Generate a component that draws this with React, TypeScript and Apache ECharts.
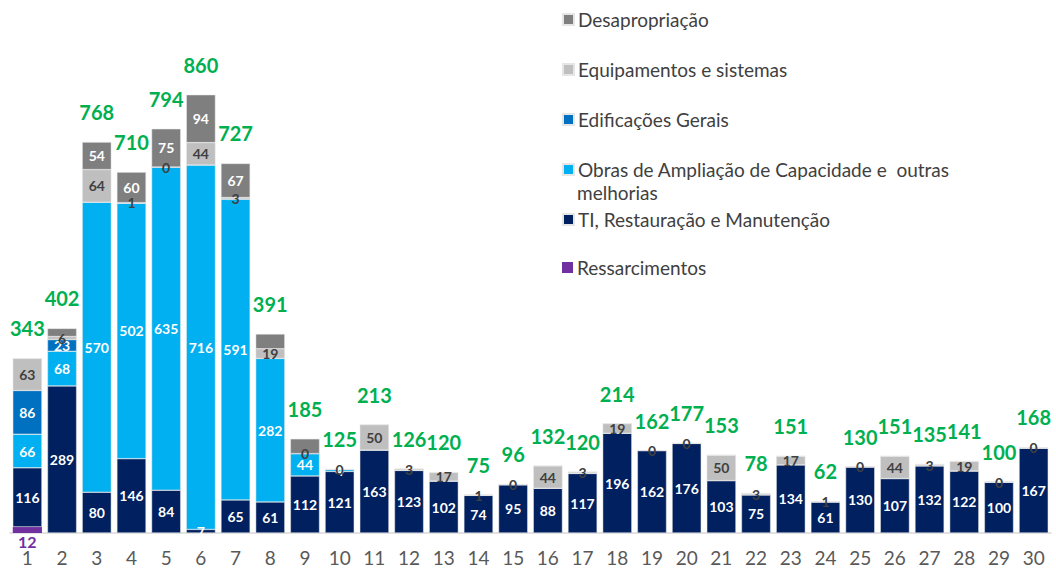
import React, { useEffect, useRef } from "react";
import * as echarts from "echarts";

const categories = Array.from({ length: 30 }, (_, i) => String(i + 1));

const ressarcimentos = [12, 0, 0, 0, 0, 0, 0, 0, 0, 0, 0, 0, 0, 0, 0, 0, 0, 0, 0, 0, 0, 0, 0, 0, 0, 0, 0, 0, 0, 0];
const tiRestauracao = [116, 289, 80, 146, 84, 7, 65, 61, 112, 121, 163, 123, 102, 74, 95, 88, 117, 196, 162, 176, 103, 75, 134, 61, 130, 107, 132, 122, 100, 167];
const obrasAmpliacao = [66, 68, 570, 502, 635, 716, 591, 282, 44, 4, 0, 0, 0, 0, 0, 0, 0, 0, 0, 0, 0, 0, 0, 0, 0, 0, 0, 0, 0, 0];
const edificacoes = [86, 23, 0, 0, 0, 0, 0, 0, 0, 0, 0, 0, 0, 0, 0, 0, 0, 0, 0, 0, 0, 0, 0, 0, 0, 0, 0, 0, 0, 0];
const equipamentos = [63, 6, 64, 1, 0, 44, 3, 19, 0, 0, 50, 3, 17, 1, 0, 44, 3, 19, 0, 0, 50, 3, 17, 1, 0, 44, 3, 19, 0, 0];
const desapropriacao = [0, 16, 54, 60, 75, 94, 67, 29, 29, 0, 0, 0, 0, 0, 0, 0, 0, 0, 0, 0, 0, 0, 0, 0, 0, 0, 0, 0, 0, 0];
const totals = [343, 402, 768, 710, 794, 860, 727, 391, 185, 125, 213, 126, 120, 75, 96, 132, 120, 214, 162, 177, 153, 78, 151, 62, 130, 151, 135, 141, 100, 168];

const N_DESAP = "Desapropriação";
const N_EQUIP = "Equipamentos e sistemas";
const N_EDIF = "Edificações Gerais";
const N_OBRAS = "Obras de Ampliação de Capacidade e  outras melhorias";
const N_TI = "TI, Restauração e Manutenção";
const N_RESS = "Ressarcimentos";

const FONT = "Lato";

export default function App() {
  const ref = useRef<HTMLDivElement>(null);
  useEffect(() => {
    document.body.style.margin = "0";
    const chart = echarts.init(ref.current!, null, { renderer: "svg" });
    const whiteLabel = (minShow: number) => ({
      show: true,
      position: "inside",
      color: "#ffffff",
      fontFamily: FONT,
      fontWeight: "bold",
      fontSize: 14,
      formatter: (p: any) => (p.value >= minShow ? String(p.value) : ""),
    });
    const common = {
      type: "bar",
      stack: "total",
      barCategoryGap: "16%",
      barGap: "-100%",
    };
    const legendItem = (name: string, top: number, text?: string) => ({
      orient: "vertical",
      left: 557,
      top,
      data: [name],
      itemWidth: 11,
      itemHeight: 11,
      icon: "rect",
      formatter: () => text ?? name,
      textStyle: { fontFamily: FONT, fontSize: 19, color: "#404040", padding: [0, 0, 0, -1] },
      selectedMode: false,
    });
    chart.setOption({
      animation: false,
      textStyle: { fontFamily: FONT },
      grid: { left: 10, right: 5, top: 24, bottom: 38 },
      xAxis: {
        type: "category",
        data: categories,
        axisLine: { lineStyle: { color: "#d9d9d9", width: 1.5 } },
        axisTick: { show: false },
        axisLabel: { color: "#595959", fontSize: 19, fontFamily: FONT, margin: 15 },
      },
      yAxis: { type: "value", min: 0, max: 1000, show: false, splitLine: { show: false } },
      legend: [
        legendItem(N_DESAP, 5),
        legendItem(N_EQUIP, 55),
        legendItem(N_EDIF, 105),
        legendItem(N_OBRAS, 155, "Obras de Ampliação de Capacidade e  outras"),
        legendItem(N_TI, 205),
        legendItem(N_RESS, 253),
      ],
      graphic: [
        {
          type: "text",
          left: 577,
          top: 183,
          style: { text: "melhorias", font: `19px ${FONT}`, fill: "#404040" },
        },
      ],
      series: [
        {
          ...common,
          name: N_RESS,
          data: ressarcimentos,
          itemStyle: { color: "#7030A0" },
          label: {
            show: true,
            position: "bottom",
            distance: 0,
            color: "#7030A0",
            fontFamily: FONT,
            fontWeight: "bold",
            fontSize: 16,
            formatter: (p: any) => (p.value > 0 ? String(p.value) : ""),
          },
        },
        {
          ...common,
          name: N_TI,
          data: tiRestauracao,
          itemStyle: { color: "#002060", borderColor: "#e6e6e6", borderWidth: 0.5 },
          label: whiteLabel(0),
        },
        {
          ...common,
          name: N_OBRAS,
          data: obrasAmpliacao,
          itemStyle: { color: "#00B0F0", borderColor: "#e6e6e6", borderWidth: 0.5 },
          label: whiteLabel(1),
        },
        {
          ...common,
          name: N_EDIF,
          data: edificacoes,
          itemStyle: { color: "#0070C0", borderColor: "#e6e6e6", borderWidth: 0.5 },
          label: whiteLabel(1),
        },
        {
          ...common,
          name: N_EQUIP,
          data: equipamentos,
          itemStyle: { color: "#BFBFBF", borderColor: "#e6e6e6", borderWidth: 0.5 },
          label: {
            show: true,
            position: "inside",
            color: "#404040",
            fontFamily: FONT,
            fontWeight: "bold",
            fontSize: 14,
          },
        },
        {
          ...common,
          name: N_DESAP,
          data: desapropriacao,
          itemStyle: { color: "#7F7F7F", borderColor: "#e6e6e6", borderWidth: 0.5 },
          label: whiteLabel(40),
        },
        {
          type: "bar",
          name: "Total",
          data: totals,
          barCategoryGap: "16%",
          barGap: "-100%",
          itemStyle: { color: "rgba(0,0,0,0)" },
          silent: true,
          z: 1,
          label: {
            show: true,
            position: "top",
            distance: 20,
            color: "#00B050",
            fontFamily: FONT,
            fontWeight: "bold",
            fontSize: 20,
          },
        },
      ],
    });
    return () => chart.dispose();
  }, []);
  return <div ref={ref} style={{ width: 1056, height: 571 }} />;
}
